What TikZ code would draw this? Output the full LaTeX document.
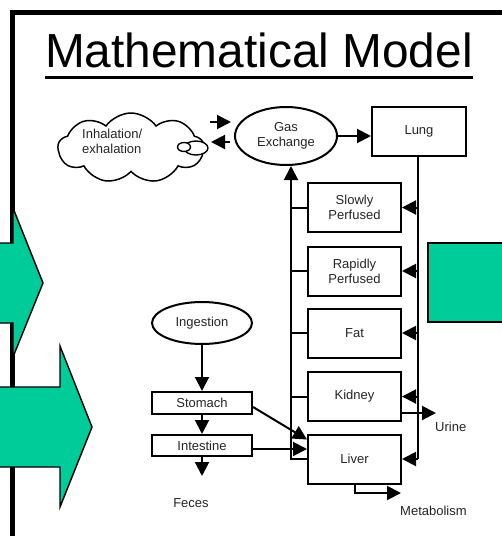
\documentclass[tikz,border=0pt]{standalone}
\usepackage{fontspec}
\setmainfont{Liberation Sans}
\usetikzlibrary{shapes.geometric,shapes.symbols,arrows.meta}
\definecolor{tealgreen}{RGB}{0,204,153}
\begin{document}
\begin{tikzpicture}[x=1pt,y=-1pt,
  lbl/.style={font=\fontsize{13}{15}\selectfont, align=center, text=black!85},
  box/.style={draw, line width=2pt, minimum width=93pt, minimum height=49pt, inner sep=0pt, lbl},
  gibox/.style={draw, line width=2pt, minimum width=100pt, minimum height=22pt, inner sep=0pt, lbl},
  oval/.style={draw, line width=2pt, ellipse, inner sep=0pt, lbl},
  conn/.style={line width=2pt},
  arr/.style={line width=2pt, -{Triangle[length=14pt,width=14pt]}},
  greenshape/.style={fill=tealgreen, draw=black, line width=1.4pt}
]
\useasboundingbox (0,0) rectangle (502,536);
\fill[white] (0,0) rectangle (502,536);

% frame
\draw[line width=5pt] (502,12) -- (12,12) -- (12,540);

% green arrows and block
\draw[greenshape] (-5,243) -- (13,243) -- (13,208) -- (43,283) -- (13,357) -- (13,323) -- (-5,323) -- cycle;
\draw[greenshape] (-5,387) -- (60,387) -- (60,346) -- (92,427) -- (60,507) -- (60,467) -- (-5,467) -- cycle;
\draw[greenshape] (428,243) rectangle (510,322);

% title
\node[font=\fontsize{47.8}{50}\selectfont, anchor=base, inner sep=0pt] (title) at (259,67) {Mathematical Model};
\draw[line width=3pt] ([yshift=-10pt]title.base west) -- ([yshift=-10pt]title.base east);

% cloud
\node[cloud, draw, line width=1.5pt, cloud puffs=9, cloud puff arc=110, cloud ignores aspect, minimum width=146pt, minimum height=70pt, inner sep=0pt] (cloud) at (131,148) {};
\node[lbl, align=left, anchor=west, inner sep=0pt] (inhal) at (82,141) {Inhalation/\\exhalation};
\draw[line width=1.4pt, fill=white] (196,148) ellipse [x radius=12, y radius=7];
\node[draw, line width=1.4pt, ellipse, fill=white, minimum width=13pt, minimum height=9pt, inner sep=0pt] (bubble) at (184,147) {};

% gas exchange & lung
\node[oval, minimum width=102pt, minimum height=58pt] (gas) at (286,136) {Gas\\Exchange};
\node[box, minimum width=94pt] (lung) at (419,131.5) {Lung};
\draw[arr] (gas.east) -- (gas.east -| lung.west);

\coordinate (inA) at (210,122);
\coordinate (inB) at (231,122);
\coordinate (outA) at (230,142);
\coordinate (outB) at (211,142);
\draw[arr] (inA) -- (inB);
\draw[arr] (outA) -- (outB);

% compartments
\node[box] (slow) at (354.5,207.5) {Slowly\\Perfused};
\node[box] (rapid) at (354.5,271) {Rapidly\\Perfused};
\node[box] (fat) at (354.5,333) {Fat};
\node[box] (kidney) at (354.5,396.5) {Kidney};
\node[box] (liver) at (354.5,459) {Liver};

\coordinate (lbus) at (291,0);
\coordinate (rbus) at (418,0);

% venous return bus
\draw[arr] (liver.west) -| (lbus |- gas.south);
\foreach \n in {slow,rapid,fat,kidney}
  \draw[conn] (\n.west) -- (\n.west -| lbus);

% arterial bus
\draw[conn] (lung.south -| rbus) -- (rbus |- liver.west);
\foreach \n in {slow,rapid,fat,kidney,liver}
  \draw[arr] (\n.east -| rbus) -- (\n.east);

% GI tract
\node[oval, minimum width=100pt, minimum height=42pt] (ingest) at (202,323) {Ingestion};
\node[gibox] (stomach) at (202,403) {Stomach};
\node[gibox, minimum height=21pt] (intest) at (202,445.5) {Intestine};
\draw[arr] (ingest.south) -- (stomach.north);
\draw[arr] (stomach.south) -- (intest.north);
\coordinate (fecesend) at (202,476);
\draw[arr] (intest.south) -- (fecesend);
\node[lbl] (feces) at (191,503) {Feces};

\draw[arr] ([yshift=-4pt]stomach.east) -- ([yshift=-6pt]liver.north west);
\draw[arr] ([yshift=-3.5pt]intest.east) -- ([yshift=-3.5pt]intest.east -| liver.west);

% outputs
\coordinate (urineend) at (436,413);
\draw[arr] (kidney.east |- urineend) -- (urineend);
\node[lbl, anchor=west, inner sep=0pt] (urine) at (435,427) {Urine};

\coordinate (metabend) at (401,493);
\draw[arr] (liver.south) |- (metabend);
\node[lbl, anchor=west, inner sep=0pt] (metab) at (400,511) {Metabolism};
\end{tikzpicture}
\end{document}
